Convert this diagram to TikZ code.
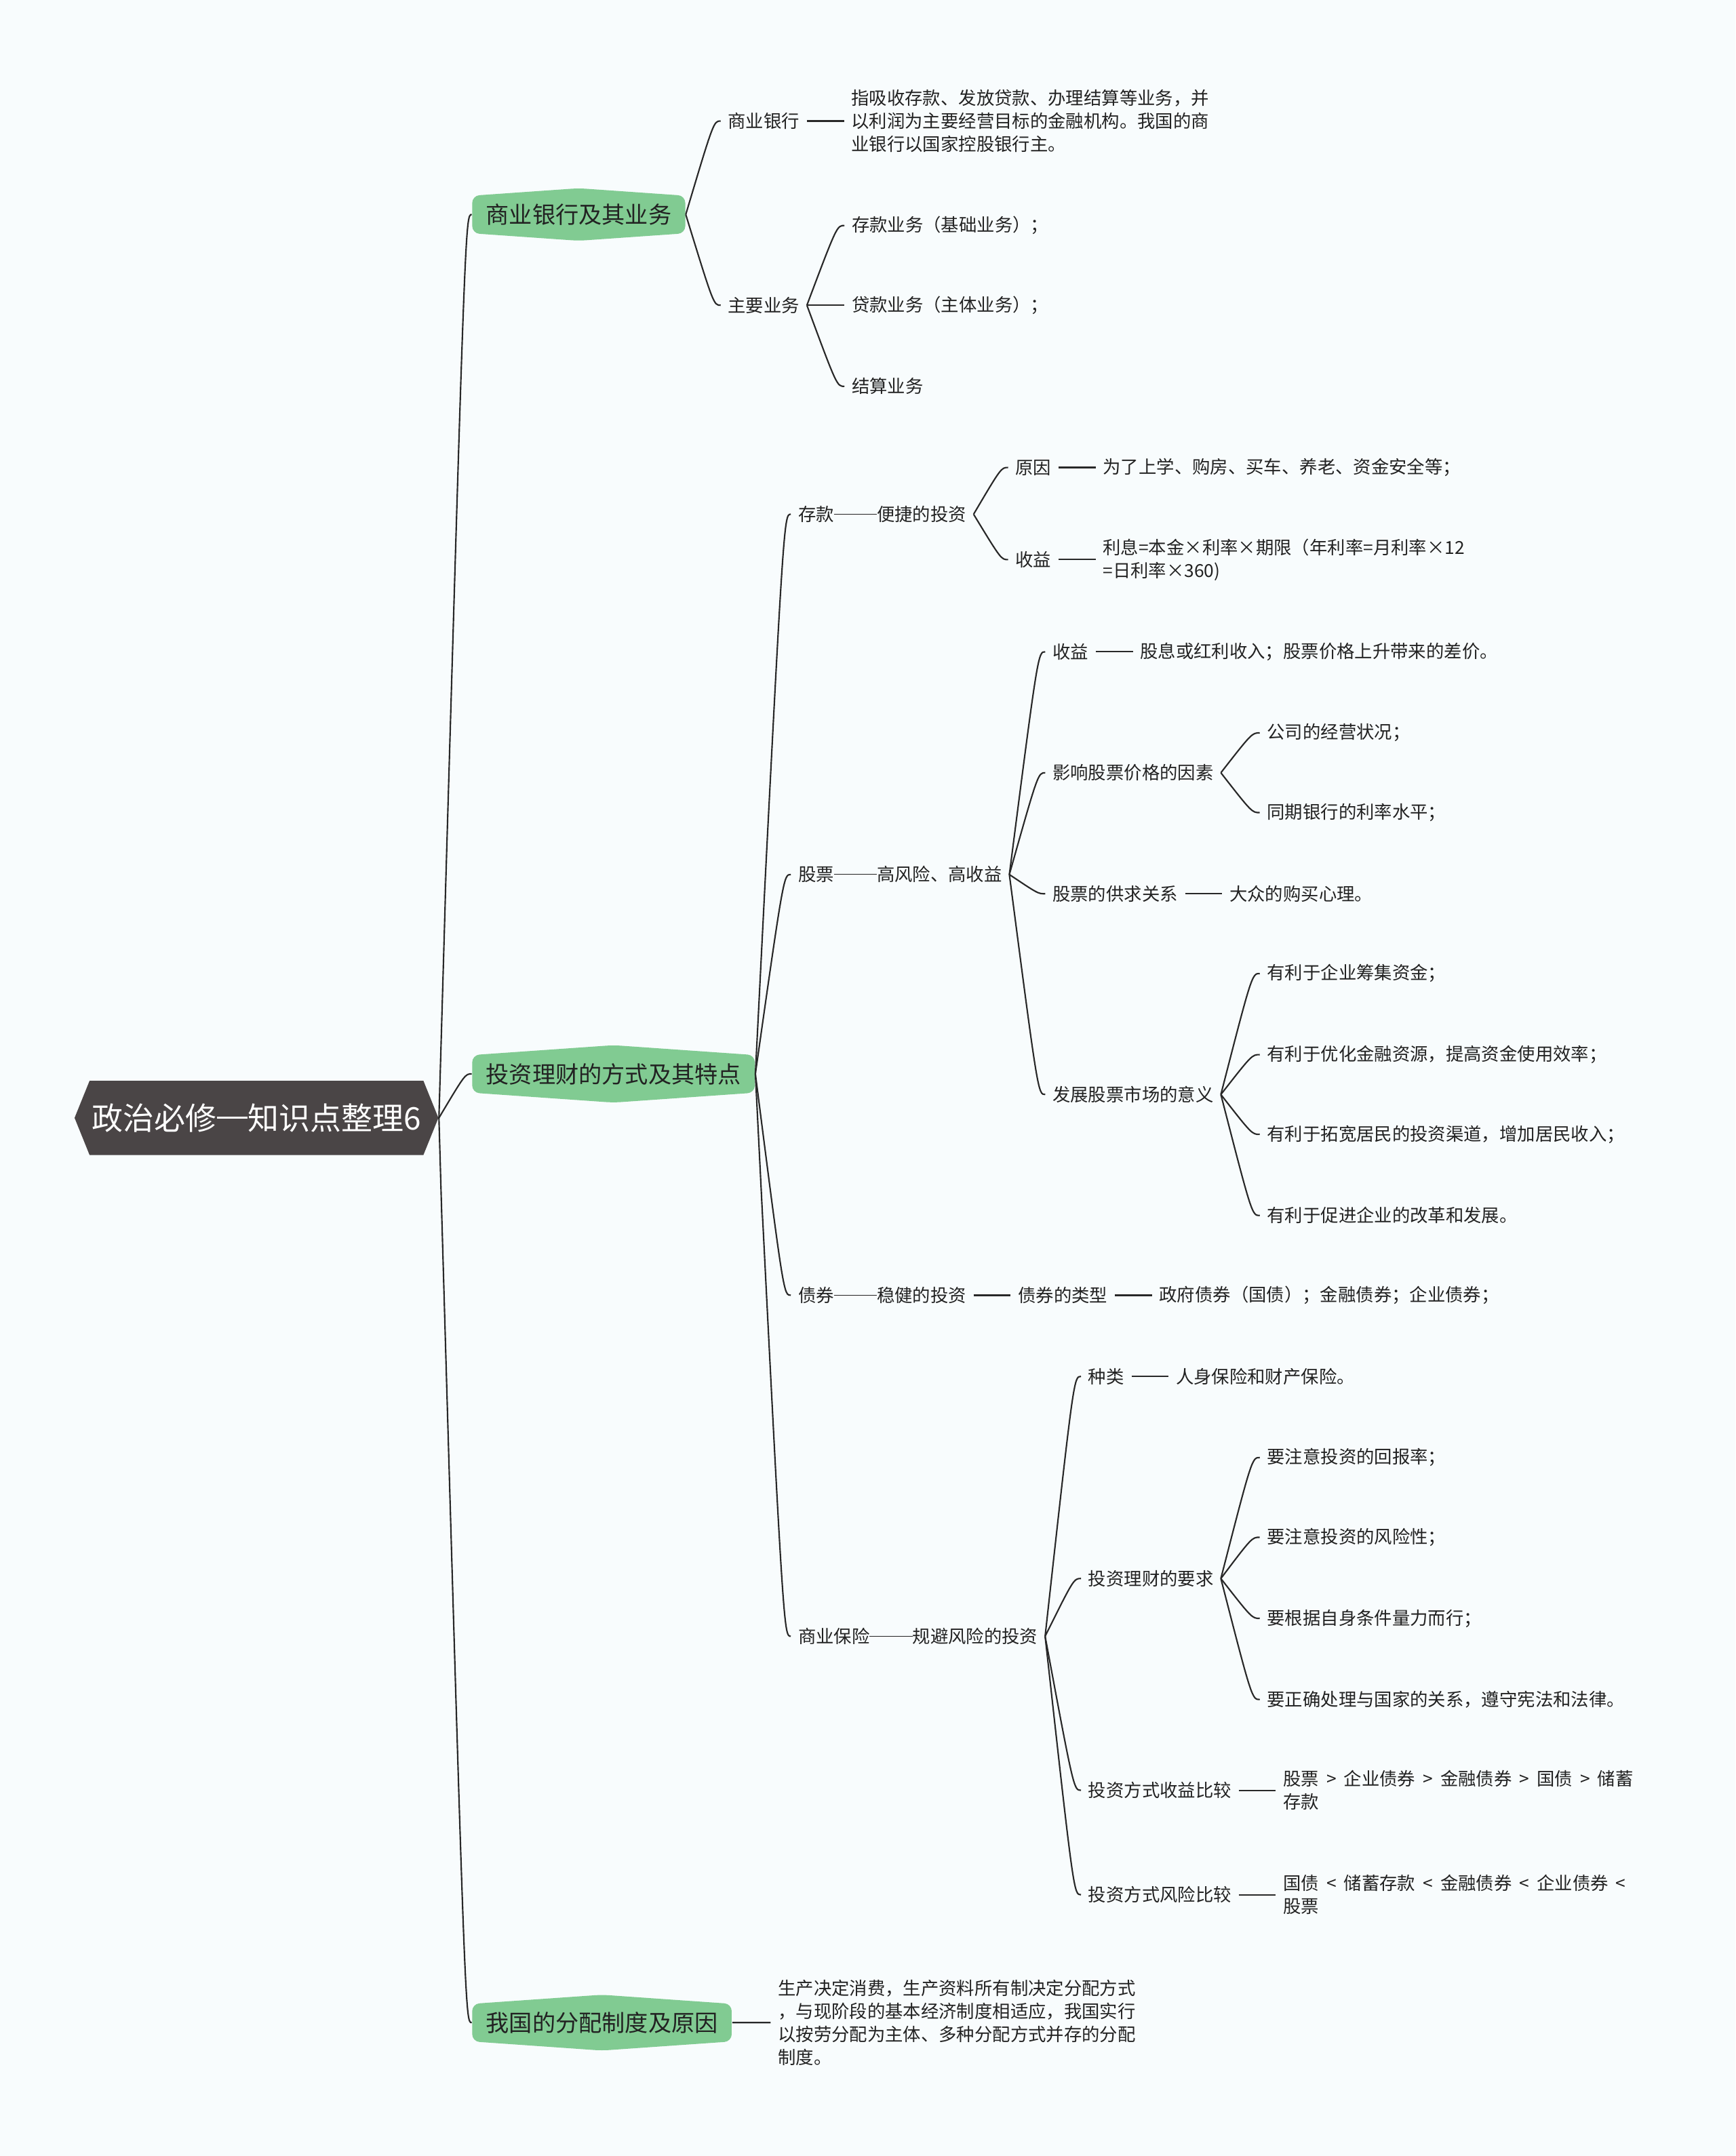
\documentclass[tikz,border=0pt]{standalone}
\usepackage{fontspec}
\setmainfont{Noto Sans CJK SC}
\usepackage{xcolor}
\usetikzlibrary{positioning,calc,shapes.symbols}
\definecolor{pagebg}{RGB}{248,252,253}
\definecolor{rootgray}{RGB}{74,69,70}
\definecolor{topicgreen}{RGB}{129,203,146}
\definecolor{linegray}{RGB}{40,40,40}
\definecolor{textdark}{RGB}{34,34,34}
\newcommand{\longdash}{\rule[0.36em]{2.4em}{0.055em}}
\newcommand{\morethan}{\hspace{.42em}>\hspace{.42em}}
\newcommand{\lessthan}{\hspace{.42em}<\hspace{.42em}}

\begin{document}
\begin{tikzpicture}[
    x=0.02cm, y=-0.02cm,
    root/.style={signal,signal to=west and east,signal pointer angle=136,
      fill=rootgray,text=white,font=\fontsize{12.9}{15}\selectfont,
      minimum height=1.08cm,inner xsep=1pt},
    topic/.style={signal,signal to=north and south,signal pointer angle=172,
      rounded corners=3pt,fill=topicgreen,text=textdark,
      font=\fontsize{9.6}{11}\selectfont,minimum height=0.56cm,inner xsep=0.2cm,anchor=west},
    leaf/.style={font=\fontsize{7.4}{9.6}\selectfont,text=textdark,
      inner xsep=0.1cm,inner ysep=1pt,anchor=west,align=left},
    link/.style={draw=linegray,line width=0.6pt},
    curvy/.style={to path={let \p1=(\tikztostart),\p2=(\tikztotarget) in
      .. controls (\x1+0.8*\x2-0.8*\x1,\y2) .. (\tikztotarget)}},
    node distance=0.54cm
  ]
    \fill[pagebg] (0,0) rectangle (1262,1568);
    \useasboundingbox (0,0) rectangle (1262,1568);

    \node[root] (root) at (186.5,813) {政治必修\rule[0.36em]{1em}{0.06em}知识点整理6};
    \node[topic] (bank) at (343,156) {商业银行及其业务};
    \node[topic] (invest) at (343,781) {投资理财的方式及其特点};
    \node[topic] (distrib) at (343,1471) {我国的分配制度及原因};

    \node[leaf] (bankname) at (524,88) {商业银行};
    \node[leaf,right=of bankname] (bankdef) {指吸收存款、发放贷款、办理结算等业务，并\\以利润为主要经营目标的金融机构。我国的商\\业银行以国家控股银行主。};
    \node[leaf] (mainbiz) at (524,222) {主要业务};
    \node[leaf] (deposit) at (614,164) {存款业务（基础业务）；};
    \node[leaf] (loan) at (614,222) {贷款业务（主体业务）；};
    \node[leaf] (settle) at (614,281) {结算业务};

    \node[leaf] (savings) at (575,374) {存款\longdash 便捷的投资};
    \node[leaf] (savcause) at (733,340) {原因};
    \node[leaf,right=of savcause] (savcausetxt) {为了上学、购房、买车、养老、资金安全等；};
    \node[leaf] (savgain) at (733,407) {收益};
    \node[leaf,right=of savgain] (savgaintxt) {利息=本金×利率×期限（年利率=月利率×12\\=日利率×360)};

    \node[leaf] (stock) at (575,636) {股票\longdash 高风险、高收益};
    \node[leaf] (stkgain) at (760,474) {收益};
    \node[leaf,right=of stkgain] (stkgaintxt) {股息或红利收入；股票价格上升带来的差价。};
    \node[leaf] (stkfactor) at (760,562) {影响股票价格的因素};
    \node[leaf] (stkfac1) at (916,533) {公司的经营状况；};
    \node[leaf] (stkfac2) at (916,591) {同期银行的利率水平；};
    \node[leaf] (stksupply) at (760,650) {股票的供求关系};
    \node[leaf,right=of stksupply] (stksupplytxt) {大众的购买心理。};
    \node[leaf] (stkmeaning) at (760,796) {发展股票市场的意义};
    \node[leaf] (stkm1) at (916,708) {有利于企业筹集资金；};
    \node[leaf] (stkm2) at (916,767) {有利于优化金融资源，提高资金使用效率；};
    \node[leaf] (stkm3) at (916,825) {有利于拓宽居民的投资渠道，增加居民收入；};
    \node[leaf] (stkm4) at (916,884) {有利于促进企业的改革和发展。};

    \node[leaf] (bond) at (575,942) {债券\longdash 稳健的投资};
    \node[leaf,right=of bond] (bondtype) {债券的类型};
    \node[leaf,right=of bondtype] (bondtypetxt) {政府债券（国债）；金融债券；企业债券；};

    \node[leaf] (insur) at (575,1190) {商业保险\longdash 规避风险的投资};
    \node[leaf] (inskind) at (786,1001) {种类};
    \node[leaf,right=of inskind] (inskindtxt) {人身保险和财产保险。};
    \node[leaf] (insreq) at (786,1148) {投资理财的要求};
    \node[leaf] (insreq1) at (916,1060) {要注意投资的回报率；};
    \node[leaf] (insreq2) at (916,1118) {要注意投资的风险性；};
    \node[leaf] (insreq3) at (916,1177) {要根据自身条件量力而行；};
    \node[leaf] (insreq4) at (916,1236) {要正确处理与国家的关系，遵守宪法和法律。};
    \node[leaf] (retcmp) at (786,1302) {投资方式收益比较};
    \node[leaf,right=of retcmp] (retcmptxt) {股票\morethan 企业债券\morethan 金融债券\morethan 国债\morethan 储蓄\\存款};
    \node[leaf] (riskcmp) at (786,1378) {投资方式风险比较};
    \node[leaf,right=of riskcmp] (riskcmptxt) {国债\lessthan 储蓄存款\lessthan 金融债券\lessthan 企业债券\hspace{.42em}<\\股票};

    \node[leaf,right=0.56cm of distrib] (distribtxt) {生产决定消费，生产资料所有制决定分配方式\\，与现阶段的基本经济制度相适应，我国实行\\以按劳分配为主体、多种分配方式并存的分配\\制度。};

    \foreach \t in {bank,invest,distrib}
      \draw[link] (root.east) to[curvy] (\t.west);
    \foreach \t in {bankname,mainbiz}
      \draw[link] (bank.east) to[curvy] (\t.west);
    \foreach \t in {deposit,loan,settle}
      \draw[link] (mainbiz.east) to[curvy] (\t.west);
    \foreach \t in {savings,stock,bond,insur}
      \draw[link] (invest.east) to[curvy] (\t.west);
    \foreach \t in {savcause,savgain}
      \draw[link] (savings.east) to[curvy] (\t.west);
    \foreach \t in {stkgain,stkfactor,stksupply,stkmeaning}
      \draw[link] (stock.east) to[curvy] (\t.west);
    \foreach \t in {stkfac1,stkfac2}
      \draw[link] (stkfactor.east) to[curvy] (\t.west);
    \foreach \t in {stkm1,stkm2,stkm3,stkm4}
      \draw[link] (stkmeaning.east) to[curvy] (\t.west);
    \foreach \t in {inskind,insreq,retcmp,riskcmp}
      \draw[link] (insur.east) to[curvy] (\t.west);
    \foreach \t in {insreq1,insreq2,insreq3,insreq4}
      \draw[link] (insreq.east) to[curvy] (\t.west);

    \draw[link] (bankname) -- (bankdef);
    \draw[link] (savcause) -- (savcausetxt);
    \draw[link] (savgain) -- (savgaintxt);
    \draw[link] (stkgain) -- (stkgaintxt);
    \draw[link] (stksupply) -- (stksupplytxt);
    \draw[link] (bond) -- (bondtype);
    \draw[link] (bondtype) -- (bondtypetxt);
    \draw[link] (inskind) -- (inskindtxt);
    \draw[link] (retcmp) -- (retcmptxt);
    \draw[link] (riskcmp) -- (riskcmptxt);
    \draw[link] (distrib) -- (distribtxt);
  \end{tikzpicture}
\end{document}
